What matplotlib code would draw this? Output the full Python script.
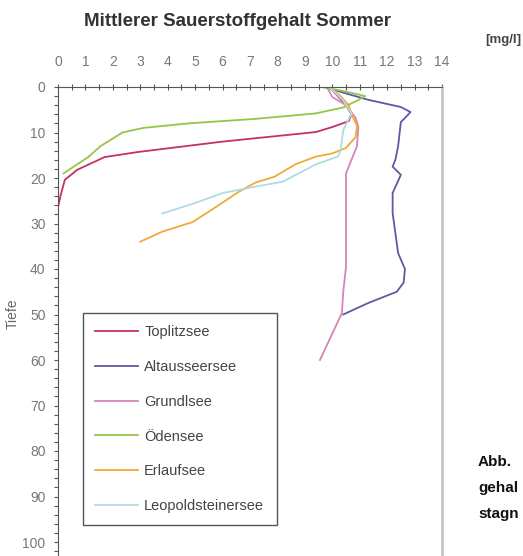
import numpy as np
import matplotlib.pyplot as plt
from matplotlib.ticker import MultipleLocator

# Sauerstoff [mg/l] gegen Tiefe [m]
top_o2 = [9.9, 10.2, 10.5, 10.7, 10.6, 10.0, 9.4, 6.0, 2.9, 1.7, 0.7, 0.25, 0.1, 0.0, 0.0]
top_z = [0, 2, 4, 6, 7.5, 8.8, 9.9, 12, 14.3, 15.4, 18.2, 20.4, 23.7, 26.4, 103]

alt_o2 = [9.8, 11.3, 12.5, 12.85, 12.7, 12.5, 12.4, 12.3, 12.2, 12.5, 12.2, 12.2, 12.4, 12.65, 12.6, 12.35, 11.3, 10.4]
alt_z = [0.2, 2.8, 4.4, 5.5, 6.5, 7.7, 13, 16, 17.5, 19.3, 23.3, 27.7, 36.5, 40, 43, 45, 47.5, 50]

gru_o2 = [9.8, 10.0, 10.5, 10.85, 10.95, 10.9, 10.7, 10.5, 10.5, 10.5, 10.5, 10.4, 10.35, 9.55]
gru_z = [0, 2.2, 4, 6.8, 8.8, 13, 16, 19, 23.3, 34, 39.5, 45, 49.7, 60]

oed_o2 = [9.6, 10.5, 11.2, 10.9, 10.4, 9.4, 7.2, 4.75, 3.1, 2.35, 1.55, 1.1, 0.2]
oed_z = [0, 1, 2, 3, 4.5, 5.8, 7, 8, 9, 10, 13, 15.4, 19]

erl_o2 = [9.9, 10.3, 10.6, 10.7, 10.9, 10.85, 10.5, 10.0, 9.4, 8.65, 7.9, 7.2, 6.6, 5.6, 4.9, 3.8, 3.0]
erl_z = [0, 2, 4, 6, 8.5, 11, 13.4, 14.6, 15.3, 17, 19.7, 21, 23, 27, 29.7, 31.8, 34]

leo_o2 = [9.9, 10.4, 10.7, 10.4, 10.35, 10.3, 10.2, 9.4, 8.2, 7.2, 6.0, 5.0, 3.8]
leo_z = [0, 3, 5.8, 9.5, 11.6, 14, 15.3, 17, 20.8, 21.9, 23.3, 25.5, 27.8]

seen = ['Toplitzsee', 'Altausseersee', 'Grundlsee', 'Ödensee', 'Erlaufsee', 'Leopoldsteinersee']
farben = ['#c4306a', '#5a5aa8', '#d585b8', '#98c448', '#f2a93a', '#afdbe3']

plt.rcParams['font.family'] = ['Liberation Sans', 'DejaVu Sans']

fig = plt.figure(figsize=(5.23, 5.56), dpi=100)
ax = fig.add_axes([58/523, 0, 384/523, 469/556])

daten = [(top_o2, top_z), (alt_o2, alt_z), (gru_o2, gru_z),
         (oed_o2, oed_z), (erl_o2, erl_z), (leo_o2, leo_z)]
for (x, z), name, c in zip(daten, seen, farben):
    ax.plot(x, z, color=c, lw=1.3, label=name)

ax.set_xlim(0, 14)
ax.set_ylim(469/4.55, 0)
ax.xaxis.tick_top()
ax.xaxis.set_major_locator(MultipleLocator(1))
ax.xaxis.set_minor_locator(MultipleLocator(0.5))
ax.yaxis.set_major_locator(MultipleLocator(10))
ax.yaxis.set_minor_locator(MultipleLocator(2))
ax.tick_params(axis='x', which='both', direction='inout', length=4, width=0.8,
               color='#555555', labelsize=10, labelcolor='#777777', pad=11)
ax.tick_params(axis='y', which='both', direction='out', length=3, width=0.8,
               color='#555555', labelsize=10, labelcolor='#777777', pad=6)
ax.spines['bottom'].set_visible(False)
ax.spines['top'].set_color('#555555')
ax.spines['left'].set_color('#555555')
ax.spines['right'].set_color('#c8c8c8')
ax.spines['right'].set_linewidth(2)

leg = ax.legend(loc='upper left', bbox_to_anchor=(0.065, 0.518), fontsize=10.5,
                handlelength=2.9, handletextpad=0.45, labelspacing=1.42,
                borderpad=0.85, borderaxespad=0, fancybox=False, framealpha=1)
leg.get_frame().set_edgecolor('#555555')
leg.get_frame().set_linewidth(1)
for t in leg.get_texts():
    t.set_color('#444444')

fig.text(238/523, 1 - 22/556, 'Mittlerer Sauerstoffgehalt Sommer', ha='center', va='center',
         fontsize=13.5, fontweight='bold', color='#333333')
fig.text(485/523, 1 - 40/556, '[mg/l]', ha='left', va='center', fontsize=9.5,
         fontweight='bold', color='#444444')
fig.text(13/523, 1 - 314/556, 'Tiefe', rotation=90, ha='center', va='center',
         fontsize=10, color='#666666')

for s, yp in zip(['Abb.', 'gehal', 'stagn'], [462, 488, 514]):
    fig.text(478/523, 1 - yp/556, s, ha='left', va='center', fontsize=11,
             fontweight='bold', color='#111111')

fig.savefig('out.png', dpi=100)
